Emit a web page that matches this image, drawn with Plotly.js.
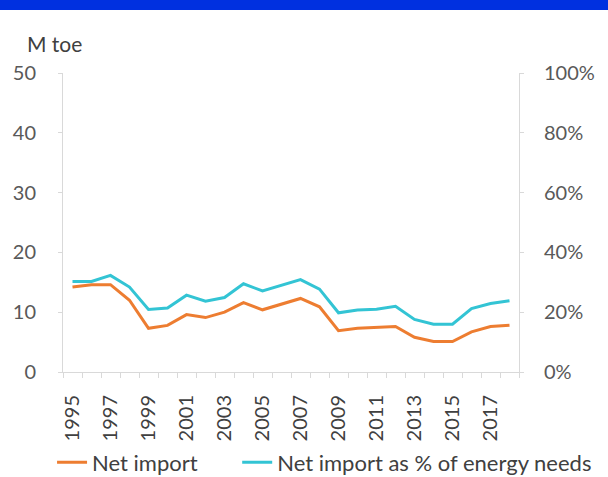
<!DOCTYPE html>
<html>
<head>
<meta charset="utf-8">
<script src="https://cdn.plot.ly/plotly-3.0.1.min.js"></script>
<style>
html,body{margin:0;padding:0;background:#fff;}
#bar{position:absolute;left:0;top:0;width:608px;height:10px;background:#0030E0;z-index:2;}
#chart{position:absolute;left:0;top:0;width:608px;height:477px;}
</style>
</head>
<body>
<div id="chart"></div>
<div id="bar"></div>
<script>
const years = [1995,1996,1997,1998,1999,2000,2001,2002,2003,2004,2005,2006,2007,2008,2009,2010,2011,2012,2013,2014,2015,2016,2017,2018];
const netImport = [14.2,14.6,14.6,12.0,7.3,7.8,9.6,9.1,10.0,11.6,10.4,11.4,12.3,10.9,6.9,7.3,7.4,7.6,5.8,5.1,5.1,6.7,7.6,7.8];
const pctNeeds = [0.303,0.303,0.323,0.284,0.209,0.214,0.257,0.237,0.249,0.295,0.271,0.29,0.309,0.277,0.198,0.207,0.21,0.22,0.176,0.16,0.16,0.212,0.229,0.238];
const labelYears = [1995,1997,1999,2001,2003,2005,2007,2009,2011,2013,2015,2017];
const boundaryTicks = [1994.5,1995.5,1996.5,1997.5,1998.5,1999.5,2000.5,2001.5,2002.5,2003.5,2004.5,2005.5,2006.5,2007.5,2008.5,2009.5,2010.5,2011.5,2012.5,2013.5,2014.5,2015.5,2016.5,2017.5,2018.5];
const leftTicks = [0,10,20,30,40,50];
const rightTicks = [0,0.2,0.4,0.6,0.8,1];

const fam = 'Lato, "Open Sans", sans-serif';
const axisCol = '#d9d9d9';

const traces = [
  {x: years, y: netImport, type:'scatter', mode:'lines', name:'Net import',
   line:{color:'#ED7D31', width:3}, xaxis:'x', yaxis:'y', legend:'legend'},
  {x: years, y: pctNeeds, type:'scatter', mode:'lines', name:'Net import as % of energy needs',
   line:{color:'#33C4D4', width:3}, xaxis:'x', yaxis:'y2', legend:'legend2'},
  {x: [years[0]], y: [null], type:'scatter', mode:'lines', showlegend:false, xaxis:'x2', yaxis:'y', hoverinfo:'skip'}
];

const legFont = {family:fam, size:22, color:'#404040'};

const layout = {
  width:608, height:477,
  margin:{l:63, r:89, t:73, b:105, autoexpand:false},
  paper_bgcolor:'#ffffff', plot_bgcolor:'#ffffff',
  font:{family:fam, size:16, color:'#595959'},
  showlegend:true,
  legend:{orientation:'h', x:-0.024, xanchor:'left', y:-0.232, yanchor:'top', font:legFont},
  legend2:{orientation:'h', x:0.382, xanchor:'left', y:-0.232, yanchor:'top', font:legFont},
  xaxis:{range:[1994.5,2018.5], tickmode:'array', tickvals:labelYears, ticktext:labelYears.map(String),
         tickangle:-90, showgrid:false, zeroline:false, showline:true, linecolor:axisCol, linewidth:1,
         ticks:'', ticklabelstandoff:14, automargin:false, tickfont:{family:fam, size:20, color:'#404040'}},
  xaxis2:{range:[1994.5,2018.5], overlaying:'x', side:'bottom', tickmode:'array', tickvals:boundaryTicks,
          showticklabels:false, ticks:'outside', ticklen:5, tickcolor:axisCol, showgrid:false, zeroline:false,
          showline:false, automargin:false},
  yaxis:{range:[0,50], tickmode:'array', tickvals:leftTicks, showgrid:false, zeroline:false,
         showline:true, linecolor:axisCol, ticks:'outside', ticklen:4, tickcolor:axisCol, automargin:false,
         ticklabelstandoff:18, tickfont:{family:fam, size:20, color:'#595959'}},
  yaxis2:{range:[0,1], overlaying:'y', side:'right', tickmode:'array', tickvals:rightTicks, tickformat:'.0%',
          showgrid:false, zeroline:false, showline:true, linecolor:axisCol, ticks:'outside', ticklen:4, automargin:false,
          tickcolor:axisCol, ticklabelstandoff:16, tickfont:{family:fam, size:20, color:'#595959'}},
  annotations:[
    {text:'M toe', xref:'paper', yref:'paper', x:-0.083, y:1.05, xanchor:'left', yanchor:'bottom',
     showarrow:false, font:{family:fam, size:21, color:'#404040'}}
  ]
};

Plotly.newPlot('chart', traces, layout, {displayModeBar:false, staticPlot:true});
</script>
</body>
</html>
